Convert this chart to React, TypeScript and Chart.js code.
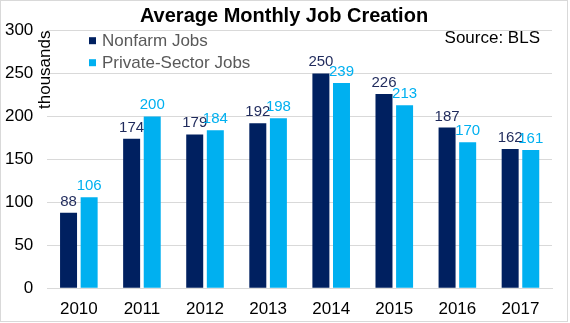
import React, { useEffect, useRef } from "react";
import { Chart, registerables } from "chart.js";

Chart.register(...registerables);

const categories = ["2010", "2011", "2012", "2013", "2014", "2015", "2016", "2017"];
const nonfarmJobs = [88, 174, 179, 192, 250, 226, 187, 162];
const privateSectorJobs = [106, 200, 184, 198, 239, 213, 170, 161];
const yTicks = [0, 50, 100, 150, 200, 250, 300];
const seriesNames = ["Nonfarm Jobs", "Private-Sector Jobs"];
const titleText = "Average Monthly Job Creation";
const sourceText = "Source: BLS";
const yAxisTitle = "thousands";

const NAVY = "#002060";
const LIGHT = "#00B0F0";
const FONT = "'Liberation Sans', Arial, sans-serif";

const decorPlugin = {
  id: "decor",
  beforeDraw(chart: any) {
    const ctx = chart.ctx;
    ctx.save();
    ctx.fillStyle = "#ffffff";
    ctx.fillRect(0, 0, chart.width, chart.height);
    ctx.restore();
  },
  afterDraw(chart: any) {
    const ctx = chart.ctx;
    ctx.save();
    // outer border
    ctx.strokeStyle = "#D9D9D9";
    ctx.lineWidth = 1;
    ctx.strokeRect(0.5, 0.5, 567, 321);

    // title
    ctx.fillStyle = "#000000";
    ctx.font = `bold 20px ${FONT}`;
    ctx.textAlign = "center";
    ctx.textBaseline = "middle";
    ctx.fillText(titleText, 284, 16);

    // source
    ctx.font = `17px ${FONT}`;
    ctx.textAlign = "right";
    ctx.fillText(sourceText, 540, 38);

    // y axis title
    ctx.save();
    ctx.translate(50, 109);
    ctx.rotate(-Math.PI / 2);
    ctx.textAlign = "left";
    ctx.textBaseline = "alphabetic";
    ctx.fillText(yAxisTitle, 0, 0);
    ctx.restore();

    // legend
    const legendY = [40.7, 62.7];
    chart.data.datasets.forEach((ds: any, i: number) => {
      ctx.fillStyle = ds.backgroundColor;
      ctx.fillRect(89, legendY[i] - 3.5, 7, 7);
      ctx.fillStyle = "#595959";
      ctx.font = `17px ${FONT}`;
      ctx.textAlign = "left";
      ctx.textBaseline = "middle";
      ctx.fillText(ds.label, 102, legendY[i] + 1);
    });

    // data labels
    chart.data.datasets.forEach((ds: any, i: number) => {
      const meta = chart.getDatasetMeta(i);
      meta.data.forEach((bar: any, j: number) => {
        ctx.fillStyle = ds.backgroundColor === NAVY ? "#1F2A5C" : LIGHT;
        ctx.font = `15px ${FONT}`;
        ctx.textAlign = "center";
        ctx.textBaseline = "alphabetic";
        ctx.fillText(String(ds.data[j]), bar.x, bar.y - 7);
      });
    });
    ctx.restore();
  },
};

export default function App() {
  const canvasRef = useRef<HTMLCanvasElement | null>(null);

  useEffect(() => {
    document.body.style.margin = "0";
    const canvas = canvasRef.current;
    if (!canvas) return;
    const chart = new Chart(canvas, {
      type: "bar",
      data: {
        labels: categories,
        datasets: [
          {
            label: seriesNames[0],
            data: nonfarmJobs,
            backgroundColor: NAVY,
            categoryPercentage: 0.653,
            barPercentage: 0.825,
          },
          {
            label: seriesNames[1],
            data: privateSectorJobs,
            backgroundColor: LIGHT,
            categoryPercentage: 0.653,
            barPercentage: 0.825,
          },
        ],
      },
      options: {
        responsive: false,
        animation: false,
        devicePixelRatio: 1,
        layout: { padding: { top: 30.5, right: 18, bottom: 0, left: 0 } },
        plugins: {
          legend: { display: false },
          title: { display: false },
          tooltip: { enabled: false },
        },
        scales: {
          x: {
            grid: { display: false, drawTicks: false },
            border: { display: true, color: "#D9D9D9" },
            ticks: {
              color: "#000000",
              font: { family: FONT, size: 17 },
              padding: 11,
            },
            afterFit(scale: any) {
              scale.height = 34.7;
            },
          },
          y: {
            min: 0,
            max: 300,
            afterBuildTicks(scale: any) {
              scale.ticks = yTicks.map((v) => ({ value: v }));
            },
            grid: { color: "#D9D9D9", drawTicks: false },
            border: { display: false },
            ticks: {
              color: "#000000",
              font: { family: FONT, size: 17 },
              padding: 14,
            },
            afterFit(scale: any) {
              scale.width = 47.3;
            },
          },
        },
      },
      plugins: [decorPlugin],
    });
    return () => chart.destroy();
  }, []);

  return (
    <div style={{ width: 570, height: 323 }}>
      <canvas ref={canvasRef} width={570} height={323} style={{ display: "block" }} />
    </div>
  );
}
